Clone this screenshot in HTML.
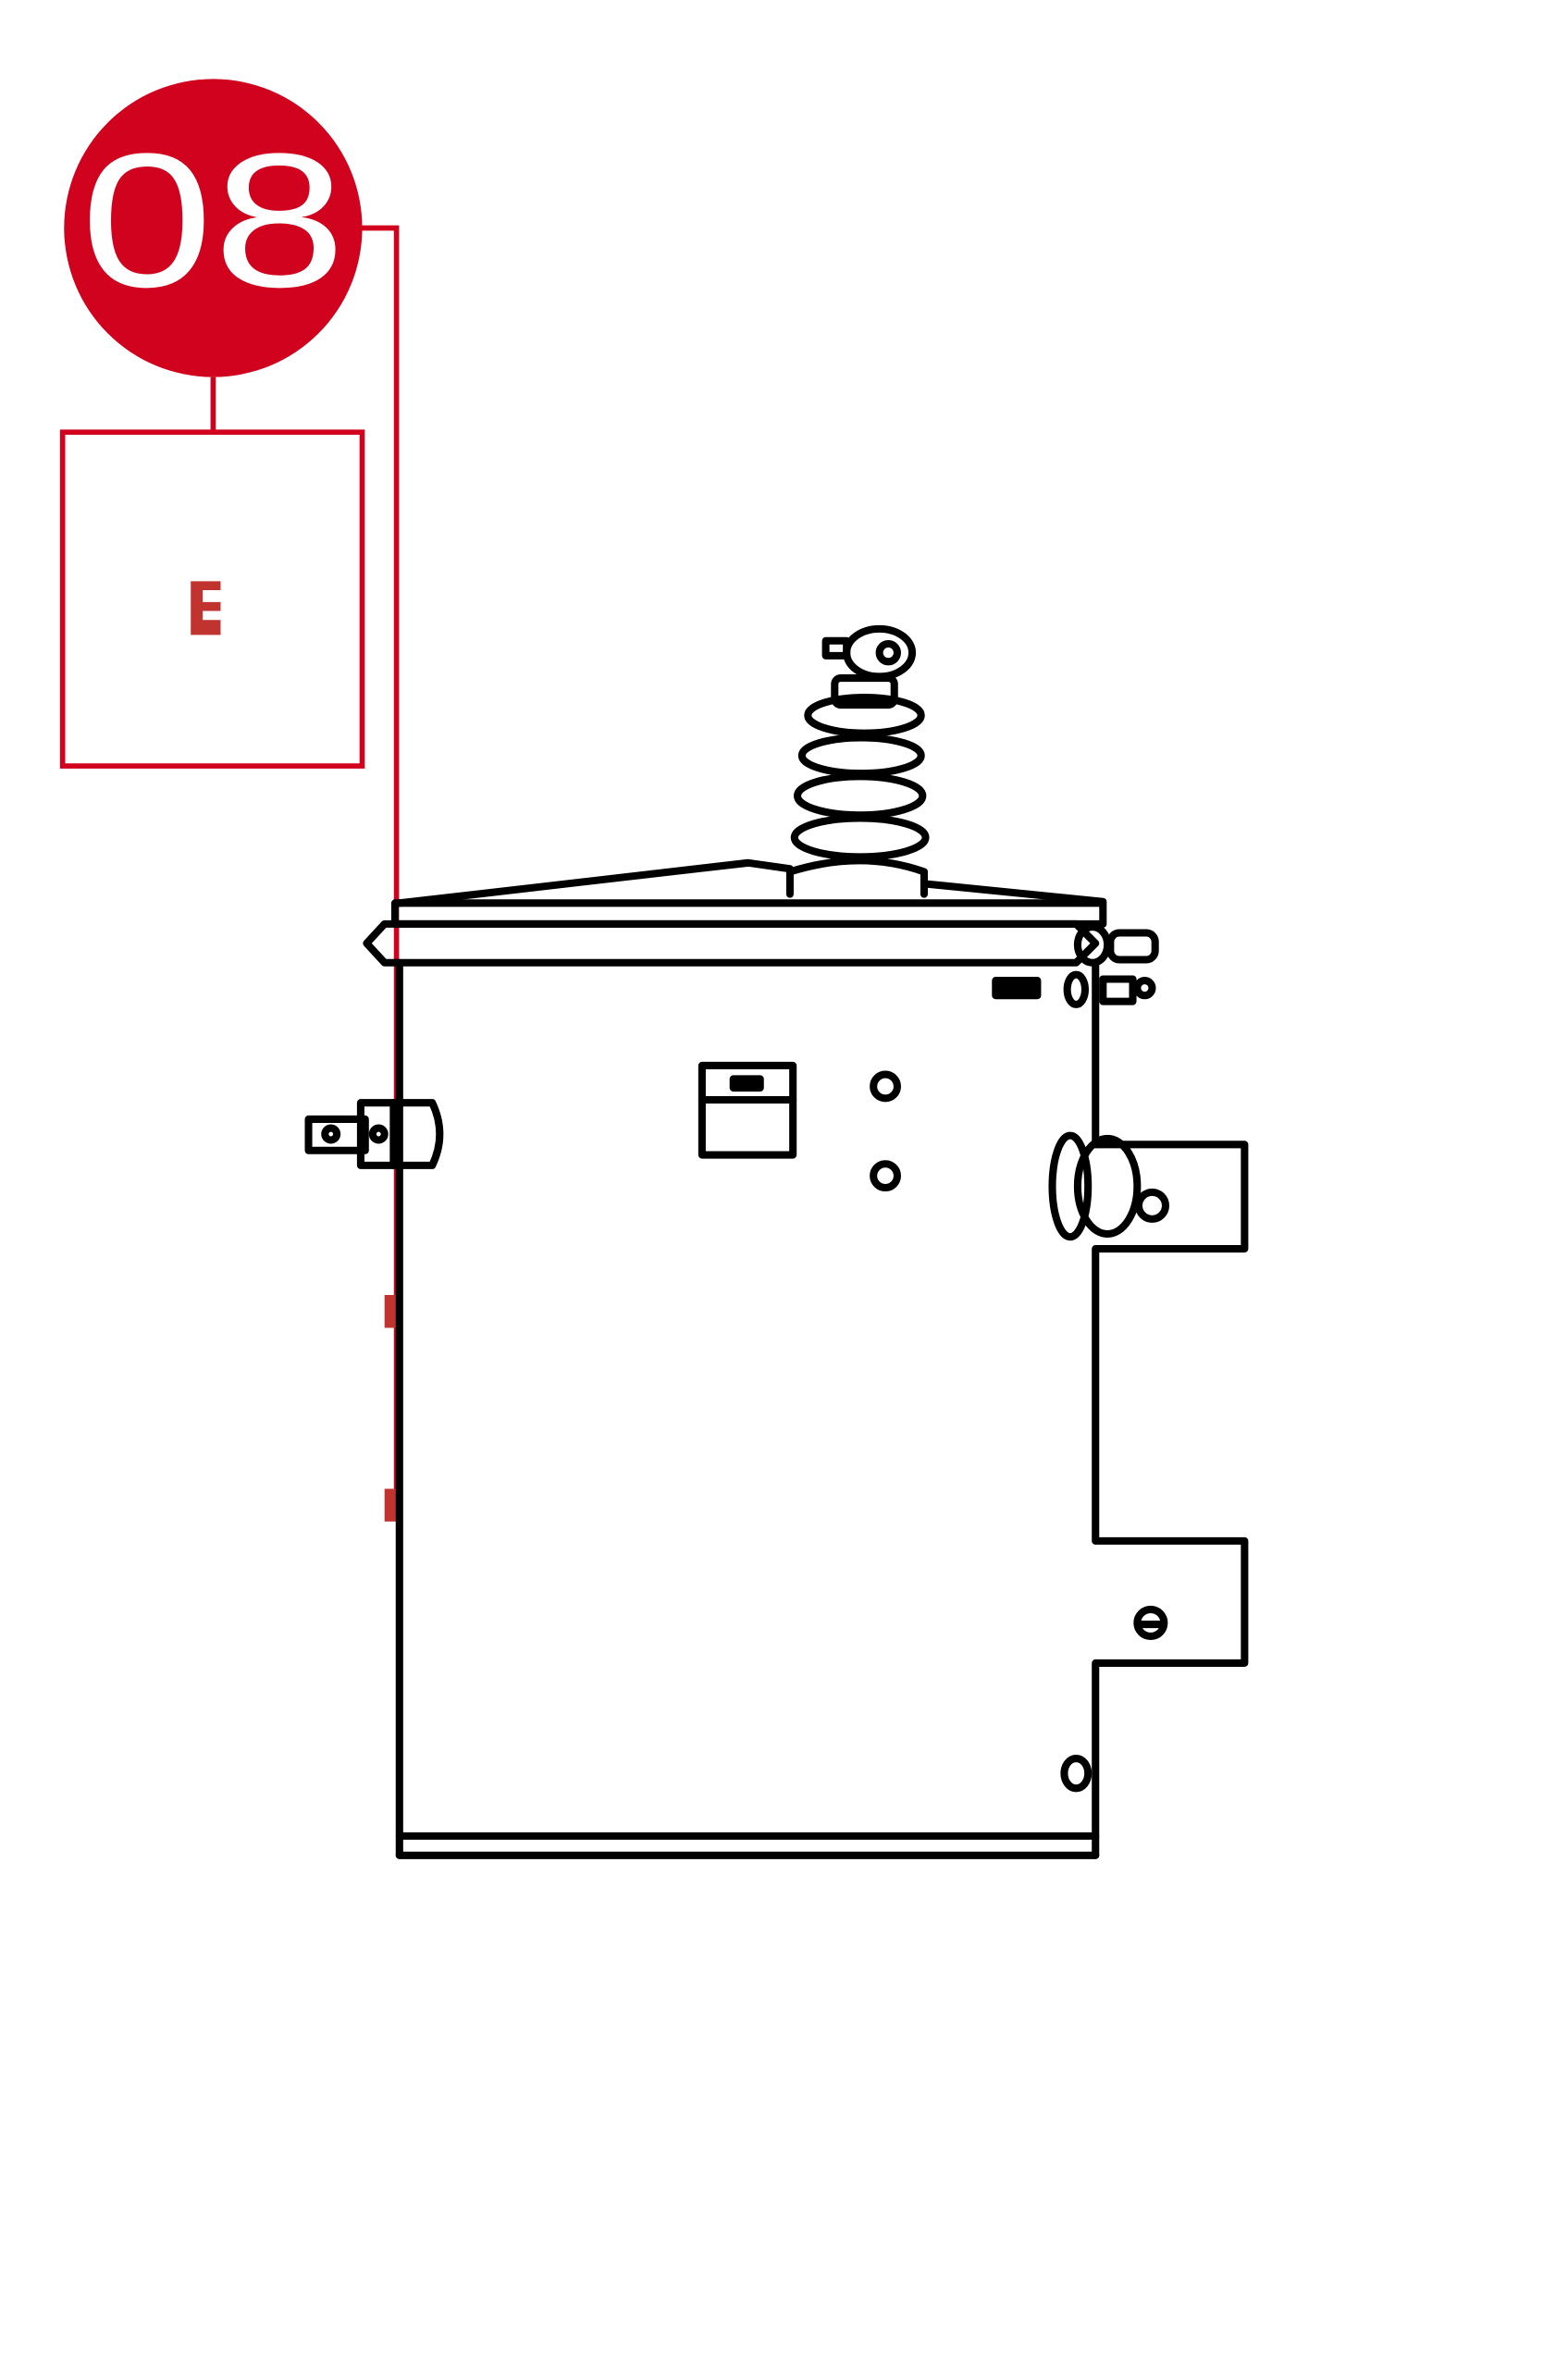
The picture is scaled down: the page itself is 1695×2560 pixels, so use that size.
<!DOCTYPE html>
<html><head><meta charset="utf-8"><style>
html,body{margin:0;padding:0;background:#fff;}
svg{display:block;}
</style></head><body>
<svg width="1695" height="2560" viewBox="0 0 1052 1589" preserveAspectRatio="none" xmlns="http://www.w3.org/2000/svg">
<rect width="1052" height="1589" fill="#fff"/>
<circle cx="143" cy="153" r="100" fill="#d0021e"/>
<text x="143" y="192" text-anchor="middle" font-family="Liberation Sans, sans-serif" font-size="128" fill="#fff" transform="translate(143 0) scale(1.25 1) translate(-143 0)">08</text>
<line x1="143" y1="253" x2="143" y2="290" stroke="#d0021e" stroke-width="3.5"/>
<rect x="42" y="290" width="201" height="224" fill="none" stroke="#d0021e" stroke-width="3.5"/>
<polyline points="243,153 266,153 266,1020" fill="none" stroke="#d0021e" stroke-width="3.5"/>
<path d="M128 390h20v6h-12v8h12v6h-12v6h12v10h-20z" fill="#c0332f"/>
<path d="M258 869h10v22h-10z" fill="#c0332f"/>
<path d="M258 999h10v22h-10z" fill="#c0332f"/>
<g fill="none" stroke="#000" stroke-width="5" stroke-linejoin="round" stroke-linecap="round">
<polyline points="268,606 502,579 530,583"/>
<polyline points="620,593 740,605"/>
<rect x="265" y="606" width="475" height="14"/>
<path d="M258 620 H722 L735 633 L722 646 H258 L246 633 Z"/>
<line x1="268" y1="646" x2="268" y2="1245"/>
<line x1="735" y1="646" x2="735" y2="768"/>
<polyline points="735,768 835,768 835,838 735,838 735,1034 835,1034 835,1116 735,1116 735,1245"/>
<line x1="268" y1="1232" x2="735" y2="1232"/>
<line x1="268" y1="1245" x2="735" y2="1245"/>
<path d="M530 600 V585 Q578 570 620 585 V600"/>
<ellipse cx="577" cy="562" rx="44" ry="13"/>
<ellipse cx="577" cy="534" rx="42" ry="13"/>
<ellipse cx="578" cy="507" rx="40" ry="12"/>
<ellipse cx="580" cy="480" rx="38" ry="12"/>
<rect x="560" y="455" width="40" height="18" rx="4"/>
<ellipse cx="590" cy="438" rx="22" ry="16"/>
<rect x="554" y="430" width="14" height="10"/>
<circle cx="596" cy="438" r="6"/>
<rect x="471" y="715" width="61" height="60"/>
<line x1="471" y1="738" x2="532" y2="738"/>
<rect x="492" y="724" width="18" height="6" fill="#000"/>
<circle cx="594" cy="729" r="8"/>
<circle cx="594" cy="789" r="8"/>
<rect x="207" y="751" width="38" height="21"/>
<rect x="242" y="740" width="22" height="42"/>
<path d="M264 740 H290 Q300 761 290 782 H264"/>
<circle cx="222" cy="761" r="4"/>
<circle cx="254" cy="761" r="4"/>
<ellipse cx="733" cy="634" rx="10" ry="12"/>
<rect x="745" y="626" width="30" height="18" rx="6"/>
<rect x="668" y="658" width="28" height="10" fill="#000"/>
<ellipse cx="722" cy="664" rx="6" ry="10"/>
<rect x="740" y="657" width="20" height="15"/>
<circle cx="768" cy="663" r="5"/>
<ellipse cx="718" cy="796" rx="12" ry="34"/>
<ellipse cx="743" cy="796" rx="20" ry="32"/>
<circle cx="773" cy="809" r="9"/>
<circle cx="772" cy="1089" r="9"/>
<line x1="764" y1="1090" x2="780" y2="1090"/>
<ellipse cx="722" cy="1190" rx="8" ry="10"/>
</g>
</svg>
</body></html>
